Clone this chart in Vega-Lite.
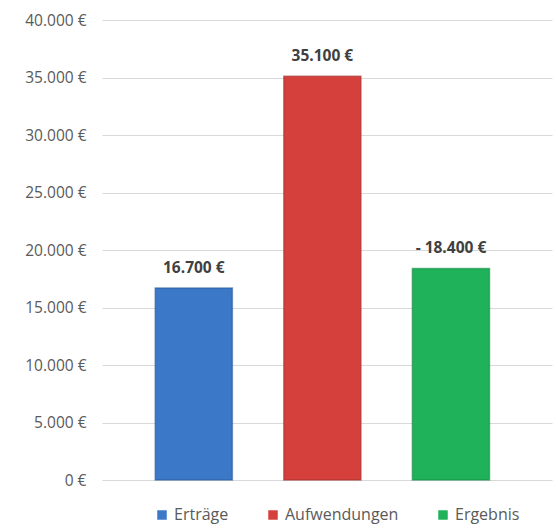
{
  "$schema": "https://vega.github.io/schema/vega-lite/v6.json",
  "width": 450,
  "height": 460,
  "autosize": {"type": "none"},
  "padding": {"left": 102, "top": 20, "right": 6, "bottom": 51},
  "background": "white",
  "config": {
    "locale": {"number": {"decimal": ",", "thousands": ".", "grouping": [3], "currency": ["", " €"]}},
    "view": {"stroke": null},
    "font": "Open Sans"
  },
  "data": {
    "values": [
      {"Kategorie": "Erträge", "Betrag": 16700, "Beschriftung": "16.700 €"},
      {"Kategorie": "Aufwendungen", "Betrag": 35100, "Beschriftung": "35.100 €"},
      {"Kategorie": "Ergebnis", "Betrag": 18400, "Beschriftung": "- 18.400 €"}
    ]
  },
  "encoding": {
    "x": {
      "field": "Kategorie",
      "type": "nominal",
      "sort": null,
      "axis": null,
      "scale": {"paddingInner": 0.4, "paddingOuter": 0.45, "align": 0.46}
    },
    "y": {
      "field": "Betrag",
      "type": "quantitative",
      "scale": {"domain": [0, 40000], "nice": false},
      "axis": {
        "values": [0, 5000, 10000, 15000, 20000, 25000, 30000, 35000, 40000],
        "format": "$,.0f",
        "title": null,
        "domain": false,
        "ticks": false,
        "labelPadding": 16,
        "labelFontSize": 15.5,
        "labelColor": "#5a5a5a",
        "gridColor": "#d9d9d9",
        "gridWidth": 1.2
      }
    }
  },
  "layer": [
    {
      "mark": {"type": "bar", "strokeWidth": 1.5, "strokeOpacity": 0.6},
      "encoding": {
        "color": {
          "field": "Kategorie",
          "type": "nominal",
          "scale": {
            "domain": ["Erträge", "Aufwendungen", "Ergebnis"],
            "range": ["#3b78c8", "#d6403c", "#1fb25a"]
          },
          "legend": {
            "orient": "none",
            "legendX": 52,
            "legendY": 487,
            "direction": "horizontal",
            "title": null,
            "symbolType": "square",
            "symbolSize": 90,
            "symbolStrokeWidth": 0,
            "labelFontSize": 16,
            "labelOffset": 4,
            "labelColor": "#5a5a5a",
            "columnPadding": 36
          }
        },
        "stroke": {
          "field": "Kategorie",
          "type": "nominal",
          "scale": {
            "domain": ["Erträge", "Aufwendungen", "Ergebnis"],
            "range": ["#2c5a99", "#a3302d", "#178a45"]
          },
          "legend": null
        }
      }
    },
    {
      "mark": {"type": "text", "dy": -20, "fontWeight": "bold", "fontSize": 15.5, "color": "#404040"},
      "encoding": {"text": {"field": "Beschriftung"}}
    }
  ]
}
